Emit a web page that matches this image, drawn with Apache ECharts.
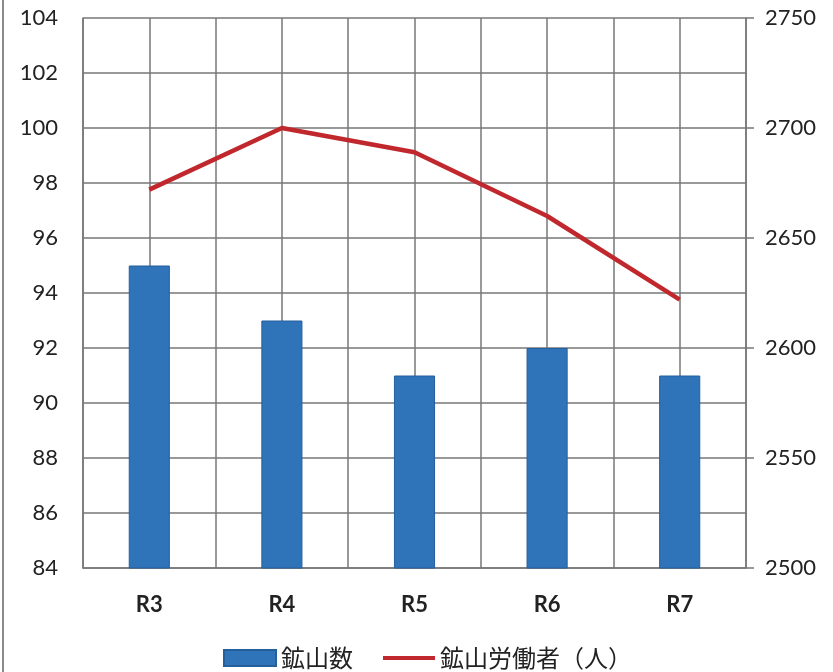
<!DOCTYPE html>
<html><head><meta charset="utf-8">
<script src="https://cdn.jsdelivr.net/npm/echarts@6/dist/echarts.min.js"></script>
<style>html,body{margin:0;padding:0;background:#fff}#c{width:833px;height:672px}</style>
</head><body><div id="c"></div>
<script>
const categories = ['R3','R4','R5','R6','R7'];
const mineCounts = [95, 93, 91, 92, 91];
const mineWorkers = [2672, 2700, 2689, 2660, 2622];
const leftTicks = {min: 84, max: 104, interval: 2};
const rightTicks = {min: 2500, max: 2750, interval: 50};
const barName = '鉱山数';
const lineName = '鉱山労働者（人）';

const gridColor = '#777777';
const textColor = '#222222';
const font = 'Lato, "Noto Sans CJK JP", sans-serif';
const chart = echarts.init(document.getElementById('c'));
chart.setOption({
  animation: false,
  textStyle: {fontFamily: font},
  grid: {left: 83, right: 87, top: 18, bottom: 104, containLabel: false},
  legend: {
    bottom: 2, left: 223, itemGap: 30, itemWidth: 52, itemHeight: 16, padding: 0,
    textStyle: {fontSize: 24, color: textColor, fontFamily: '"Noto Sans CJK JP", sans-serif'},
    data: [
      {name: barName, icon: 'rect'},
      {name: lineName, icon: 'path://M0,0L55,0L55,4L0,4Z'}
    ]
  },
  xAxis: [{
    type: 'category', data: categories, position: 'bottom',
    axisLine: {lineStyle: {color: gridColor, width: 1.5}},
    axisTick: {show: false},
    axisLabel: {fontSize: 22, fontWeight: 'bold', color: textColor, margin: 26},
    splitLine: {show: false}
  }, {
    type: 'value', min: 0, max: categories.length * 2, interval: 1, position: 'top',
    axisLine: {show: false}, axisTick: {show: false}, axisLabel: {show: false},
    splitLine: {show: true, lineStyle: {color: gridColor, width: 1.5}}
  }],
  yAxis: [{
    type: 'value', min: leftTicks.min, max: leftTicks.max, interval: leftTicks.interval,
    axisLine: {show: true, lineStyle: {color: gridColor, width: 1.5}},
    axisTick: {show: false},
    axisLabel: {fontSize: 22, color: textColor, margin: 25},
    splitLine: {show: true, lineStyle: {color: gridColor, width: 1.5}}
  }, {
    type: 'value', min: rightTicks.min, max: rightTicks.max, interval: rightTicks.interval,
    position: 'right',
    axisLine: {show: true, lineStyle: {color: gridColor, width: 1.5}},
    axisTick: {show: true, length: 8, lineStyle: {color: gridColor, width: 1.5}},
    axisLabel: {fontSize: 22, color: textColor, margin: 19, formatter: v => String(v)},
    splitLine: {show: false}
  }],
  series: [{
    name: barName, type: 'bar', data: mineCounts, xAxisIndex: 0, yAxisIndex: 0,
    barWidth: '31%',
    itemStyle: {color: '#2f73b8', borderColor: '#255f9c', borderWidth: 1}
  }, {
    name: lineName, type: 'line', data: mineWorkers, xAxisIndex: 0, yAxisIndex: 1,
    symbol: 'none', lineStyle: {color: '#c0282d', width: 4.5},
    itemStyle: {color: '#c0282d'}
  }],
  graphic: [{
    type: 'rect', shape: {x: 2, y: 0, width: 2, height: 672},
    style: {fill: '#8a8a8a'}, silent: true
  }]
});
</script></body></html>
